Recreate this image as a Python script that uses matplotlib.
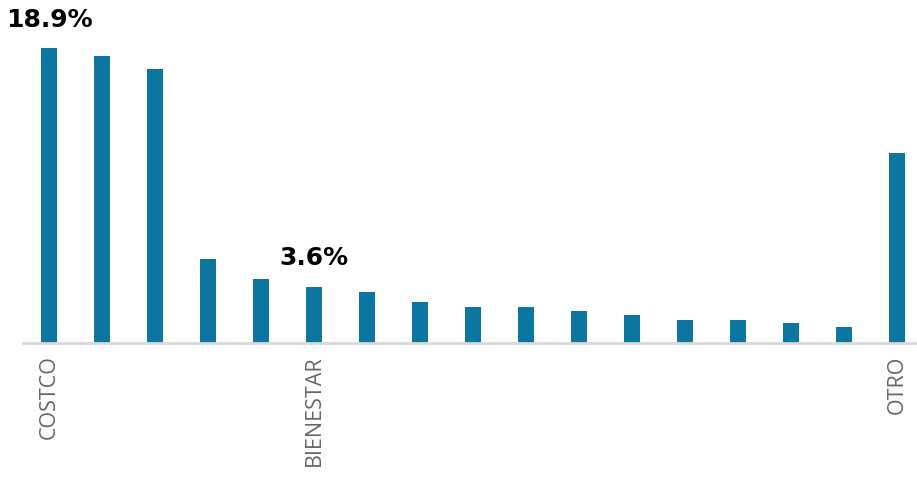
import matplotlib
matplotlib.use("Agg")
import matplotlib.pyplot as plt
import numpy as np

# data
categories = ["COSTCO", "", "", "", "", "BIENESTAR", "", "", "", "", "", "", "", "", "", "", "OTRO"]
values = [18.9, 18.4, 17.6, 5.4, 4.1, 3.6, 3.3, 2.6, 2.3, 2.3, 2.05, 1.8, 1.5, 1.5, 1.3, 1.0, 12.2]
labels_shown = {0: "18.9%", 5: "3.6%"}

plt.rcParams['font.family'] = ['Open Sans', 'DejaVu Sans']

fig = plt.figure(figsize=(9.17, 4.8), dpi=100)
ax = fig.add_axes([22.5 / 917, 137 / 480, 901 / 917, 343 / 480])

x = np.arange(len(values))
ax.bar(x, values, width=0.3, color="#0b76a0")

for i, txt in labels_shown.items():
    ax.annotate(txt, (x[i], values[i]), xytext=(0, 12), textcoords="offset points",
                ha="center", va="bottom", fontsize=18, fontweight="bold",
                color="black", family="DejaVu Sans")

ax.set_xlim(-0.5, len(values) - 0.5)
ax.set_ylim(0, 22)
ax.set_xticks(x)
ax.set_xticklabels(categories, rotation=90, fontsize=15.5, color="#666666")
ax.tick_params(axis="x", length=0, pad=9)
ax.set_yticks([])
for s in ["top", "right", "left"]:
    ax.spines[s].set_visible(False)
ax.spines["bottom"].set_color("#d9d9d9")
ax.spines["bottom"].set_linewidth(2)

fig.savefig("out.png", dpi=100)
